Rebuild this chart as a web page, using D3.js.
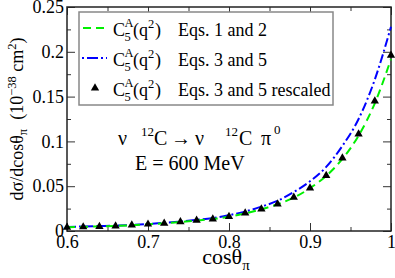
<!DOCTYPE html>
<html><head><meta charset="utf-8">
<script src="https://cdn.jsdelivr.net/npm/d3@7"></script>
<style>
body{margin:0;background:#fff}
svg{display:block}
svg text{font-family:'Liberation Serif','DejaVu Serif',serif !important;fill:#000}
</style>
</head><body>
<svg id="c" width="395" height="278"></svg>
<script>
// ---- data ----
const cosTheta = [0.60,0.62,0.64,0.66,0.68,0.70,0.72,0.74,0.76,0.78,0.80,0.82,0.84,0.86,0.88,0.90,0.92,0.94,0.96,0.98,1.00];
const eqs12 = [0.0043,0.0046,0.0051,0.0056,0.0064,0.0075,0.0086,0.0101,0.0116,0.0134,0.0159,0.0197,0.0243,0.0299,0.0372,0.0478,0.0615,0.0805,0.1065,0.1425,0.192];
const eqs35 = [0.0046,0.0050,0.0055,0.0060,0.0068,0.0079,0.0092,0.0107,0.0124,0.0144,0.0176,0.0217,0.0272,0.0337,0.0435,0.0555,0.0715,0.0950,0.1250,0.1690,0.228];
const eqs35Rescaled = [0.0042,0.0045,0.0050,0.0056,0.0065,0.0076,0.0085,0.0103,0.0119,0.0133,0.0160,0.0199,0.0244,0.0301,0.0375,0.0480,0.0618,0.0813,0.1082,0.1450,0.196];
const xTickValues = [0.6,0.7,0.8,0.9,1.0];
const xTickLabels = ["0.6","0.7","0.8","0.9","1"];
const xMinorValues = [0.65,0.75,0.85,0.95];
const yTickValues = [0,0.05,0.1,0.15,0.2,0.25];
const yTickLabels = ["0","0.05","0.1","0.15","0.2","0.25"];
const yMinorValues = [0.025,0.075,0.125,0.175,0.225];

// ---- layout ----
const FONT = "'Liberation Serif','DejaVu Serif',serif";
const svg = d3.select("#c");
const L=67, R=391, T=7, B=231;
const x = d3.scaleLinear().domain([0.6,1]).range([L,R]);
const y = d3.scaleLinear().domain([0,0.25]).range([B,T]);
const tickCol = "#333";

function styleAxis(g){
  g.attr("font-family",FONT);
  g.select(".domain").remove();
  g.selectAll(".tick line").attr("stroke",tickCol).attr("stroke-width",1);
  g.selectAll(".tick text").attr("font-family",FONT).style("font-size","18px").attr("fill","#000");
}
// bottom
svg.append("g").attr("transform",`translate(0,${B})`)
  .call(d3.axisBottom(x).tickValues(xTickValues).tickFormat((d,i)=>xTickLabels[i]).tickSizeInner(-8).tickSizeOuter(0).tickPadding(4))
  .call(styleAxis);
svg.append("g").attr("transform",`translate(0,${B})`)
  .call(d3.axisBottom(x).tickValues(xMinorValues).tickFormat("").tickSizeInner(-4).tickSizeOuter(0))
  .call(styleAxis);
// top
svg.append("g").attr("transform",`translate(0,${T})`)
  .call(d3.axisTop(x).tickValues(xTickValues).tickFormat("").tickSizeInner(-8).tickSizeOuter(0))
  .call(styleAxis);
svg.append("g").attr("transform",`translate(0,${T})`)
  .call(d3.axisTop(x).tickValues(xMinorValues).tickFormat("").tickSizeInner(-4).tickSizeOuter(0))
  .call(styleAxis);
// left
svg.append("g").attr("transform",`translate(${L},0)`)
  .call(d3.axisLeft(y).tickValues(yTickValues).tickFormat((d,i)=>yTickLabels[i]).tickSizeInner(-8).tickSizeOuter(0).tickPadding(3))
  .call(styleAxis);
svg.append("g").attr("transform",`translate(${L},0)`)
  .call(d3.axisLeft(y).tickValues(yMinorValues).tickFormat("").tickSizeInner(-4).tickSizeOuter(0))
  .call(styleAxis);
// right
svg.append("g").attr("transform",`translate(${R},0)`)
  .call(d3.axisRight(y).tickValues(yTickValues).tickFormat("").tickSizeInner(-8).tickSizeOuter(0))
  .call(styleAxis);
svg.append("g").attr("transform",`translate(${R},0)`)
  .call(d3.axisRight(y).tickValues(yMinorValues).tickFormat("").tickSizeInner(-4).tickSizeOuter(0))
  .call(styleAxis);

// frame
svg.append("rect").attr("x",L).attr("y",T).attr("width",R-L).attr("height",B-T)
  .attr("fill","none").attr("stroke","#222").attr("stroke-width",1.5);

// ---- curves ----
const pts = arr => cosTheta.map((c,i)=>[c,arr[i]]);
const line = d3.line().x(d=>x(d[0])).y(d=>y(d[1])).curve(d3.curveMonotoneX);
svg.append("path").attr("d",line(pts(eqs35))).attr("fill","none")
  .attr("stroke","#0000ff").attr("stroke-width",2).attr("stroke-dasharray","9,3,2,3");
svg.append("path").attr("d",line(pts(eqs12))).attr("fill","none")
  .attr("stroke","#00f000").attr("stroke-width",2).attr("stroke-dasharray","8,5");
const tri = d3.symbol().type(d3.symbolTriangle).size(30);
svg.append("g").selectAll("path").data(pts(eqs35Rescaled)).join("path")
  .attr("d",tri).attr("transform",d=>`translate(${x(d[0])},${y(d[1])})`).attr("fill","#000");

// ---- legend ----
svg.append("rect").attr("x",79).attr("y",12).attr("width",254).attr("height",93)
  .attr("fill","#fff").attr("stroke","#888").attr("stroke-width",1.5);
const legendRows = [
  {eq:"Eqs. 1 and 2", ly:28},
  {eq:"Eqs. 3 and 5", ly:58},
  {eq:"Eqs. 3 and 5 rescaled", ly:88}
];
svg.append("line").attr("x1",83).attr("x2",107).attr("y1",28).attr("y2",28)
  .attr("stroke","#00f000").attr("stroke-width",2).attr("stroke-dasharray","8,5");
svg.append("line").attr("x1",82).attr("x2",107).attr("y1",58).attr("y2",58)
  .attr("stroke","#0000ff").attr("stroke-width",2).attr("stroke-dasharray","2,3,11,3");
svg.append("path").attr("d",tri).attr("transform","translate(95,88)").attr("fill","#000");
legendRows.forEach(r=>{
  const by = r.ly + 8;
  const t = svg.append("text").attr("font-family",FONT).style("font-size","18px");
  t.append("tspan").attr("x",113).attr("y",by).text("C");
  t.append("tspan").attr("x",124.5).attr("y",by+5).style("font-size","12.5px").text("5");
  t.append("tspan").attr("x",124.5).attr("y",by-9).style("font-size","12.5px").text("A");
  t.append("tspan").attr("x",133).attr("y",by).text("(q");
  t.append("tspan").attr("x",148).attr("y",by-8).style("font-size","12.5px").text("2");
  t.append("tspan").attr("x",155).attr("y",by).text(")");
  t.append("tspan").attr("x",178).attr("y",by).text(r.eq);
});

// ---- annotations ----
const a1 = svg.append("text").attr("font-family",FONT).style("font-size","20px");
a1.append("tspan").attr("x",118).attr("y",145).text("ν");
a1.append("tspan").attr("x",141).attr("y",136).style("font-size","13px").text("12");
a1.append("tspan").attr("x",154).attr("y",145).text("C");
a1.append("tspan").attr("x",171).attr("y",145).text("→");
a1.append("tspan").attr("x",195).attr("y",145).text("ν");
a1.append("tspan").attr("x",225).attr("y",136).style("font-size","13px").text("12");
a1.append("tspan").attr("x",239).attr("y",145).text("C");
a1.append("tspan").attr("x",261).attr("y",145).text("π");
a1.append("tspan").attr("x",274).attr("y",134).style("font-size","13px").text("0");
svg.append("text").attr("font-family",FONT).attr("x",135).attr("y",170).style("font-size","20px").text("E = 600 MeV");

// ---- axis titles ----
const xl = svg.append("text").attr("font-family",FONT).attr("x",226).attr("y",264).attr("text-anchor","middle").style("font-size","22px");
xl.append("tspan").text("cosθ");
xl.append("tspan").attr("dy",6).style("font-size","15px").text("π");

const yl = svg.append("text").attr("font-family",FONT).attr("transform","translate(23,119) rotate(-90)")
  .attr("text-anchor","middle").style("font-size","18px");
yl.append("tspan").text("dσ/dcosθ");
yl.append("tspan").attr("dy",4).style("font-size","12.5px").text("π");
yl.append("tspan").attr("dy",-4).text("\u00a0\u00a0(10");
yl.append("tspan").attr("dy",-7).style("font-size","12.5px").text("−38");
yl.append("tspan").attr("dy",7).text(" cm");
yl.append("tspan").attr("dy",-7).style("font-size","12.5px").text("2");
yl.append("tspan").attr("dy",7).text(")");
</script>
</body></html>
